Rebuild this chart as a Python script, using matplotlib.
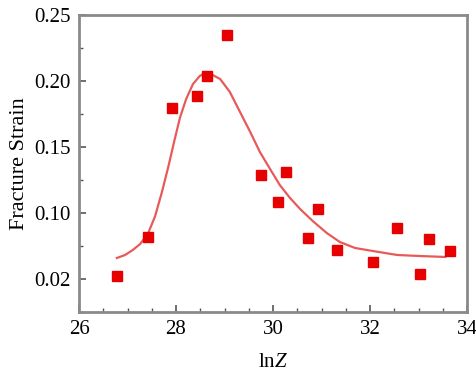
import matplotlib
matplotlib.use("Agg")
import matplotlib.pyplot as plt
from matplotlib.ticker import MultipleLocator

# Measured data points
lnz = [26.78, 27.43, 27.92, 28.43, 28.64, 29.05, 29.75, 30.10, 30.27,
       30.72, 30.93, 31.32, 32.06, 32.56, 33.03, 33.22, 33.65]
strain = [0.052, 0.082, 0.1795, 0.189, 0.204, 0.235, 0.129, 0.108, 0.131,
          0.081, 0.103, 0.072, 0.063, 0.0886, 0.054, 0.080, 0.071]

# Fitted curve
fit_x = [26.78, 26.95, 27.11, 27.26, 27.42, 27.57, 27.71, 27.84, 27.96,
         28.08, 28.21, 28.35, 28.49, 28.64, 28.91, 29.11, 29.32, 29.53,
         29.73, 29.94, 30.14, 30.35, 30.56, 30.82, 31.11, 31.38, 31.69,
         32.06, 32.56, 33.03, 33.55]
fit_y = [0.0659, 0.0682, 0.0720, 0.0765, 0.0841, 0.0977, 0.1159, 0.1348,
         0.1538, 0.1720, 0.1864, 0.1977, 0.2038, 0.2068, 0.2015, 0.1917,
         0.1765, 0.1614, 0.1462, 0.1333, 0.1212, 0.1114, 0.1030, 0.0939,
         0.0848, 0.0780, 0.0735, 0.0712, 0.0682, 0.0674, 0.0667]

xticks = [26, 28, 30, 32, 34]
yticks = [0.05, 0.10, 0.15, 0.20, 0.25]
ytick_labels = ["0.02", "0.10", "0.15", "0.20", "0.25"]

plt.rcParams['font.family'] = ['Liberation Serif', 'DejaVu Serif']
plt.rcParams['mathtext.fontset'] = 'custom'
plt.rcParams['mathtext.rm'] = 'Liberation Serif'
plt.rcParams['mathtext.it'] = 'Liberation Serif:italic'

fig = plt.figure(figsize=(4.76, 3.74), dpi=100)
ax = fig.add_axes([79/476, 1-312/374, (467-79)/476, (312-15)/374])

ax.plot(fit_x, fit_y, color='#e85a5a', lw=1.6, zorder=2,
        solid_joinstyle='round')
ax.plot(lnz, strain, 's', color='#e60000', ms=7, mec='#e60000', zorder=3)

ax.set_xlim(26, 34)
ax.set_ylim(0.025, 0.25)
ax.set_xticks(xticks)
ax.set_yticks(yticks)
ax.set_yticklabels(ytick_labels)
ax.xaxis.set_minor_locator(MultipleLocator(0.5))
ax.yaxis.set_minor_locator(MultipleLocator(0.025))

for s in ax.spines.values():
    s.set_color('#8a8a8a')
    s.set_linewidth(2)

ax.tick_params(axis='both', which='both', direction='in', color='#555555',
               top=False, right=False)
ax.tick_params(axis='both', which='major', length=5, width=1.2, labelsize=15, pad=6)
ax.tick_params(axis='both', which='minor', length=3, width=1.0)

ax.set_xlabel(r"ln$\mathit{Z}$", fontsize=15, labelpad=10)
ax.set_ylabel("Fracture Strain", fontsize=16, labelpad=4)

fig.savefig("out.png", dpi=100)
